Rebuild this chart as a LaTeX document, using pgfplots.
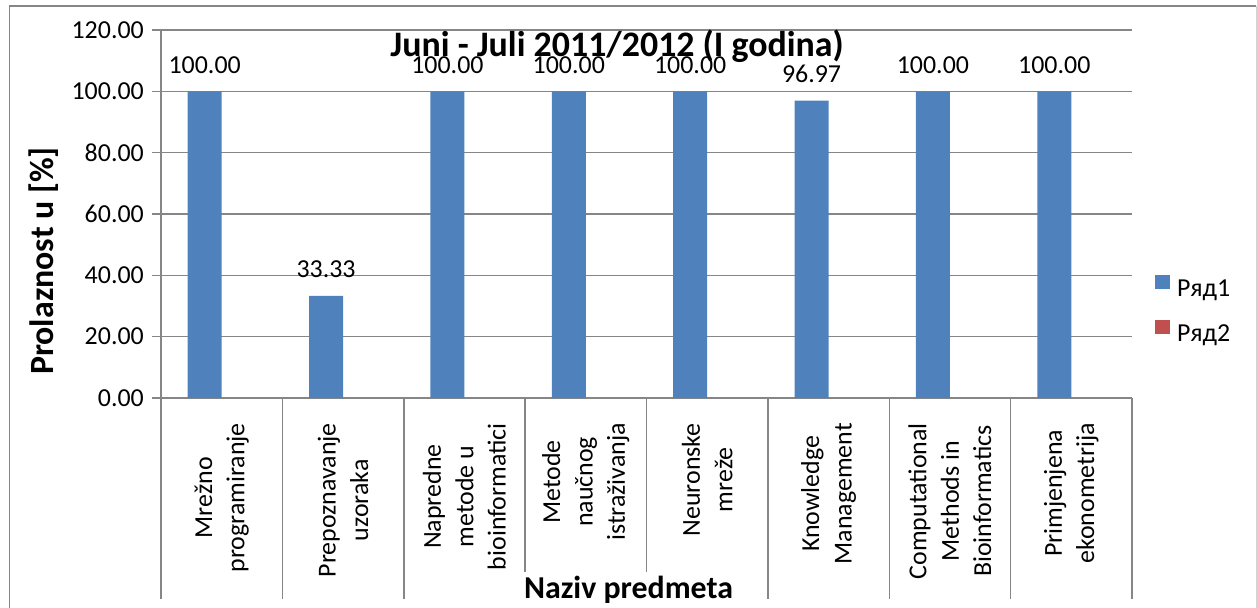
\documentclass[border=0pt]{standalone}
\usepackage{fontspec}
\setmainfont{Carlito}
\usepackage{pgfplots}
\pgfplotsset{compat=1.18}
\definecolor{s1}{RGB}{79,129,189}
\definecolor{s2}{RGB}{192,80,77}
\definecolor{gridc}{RGB}{134,134,134}
\begin{document}
\begin{tikzpicture}
\useasboundingbox (0,0) rectangle (1257bp,608bp);
\draw[gridc, line width=1.2bp] (9.5bp,-5bp) -- (9.5bp,602bp) -- (1256bp,602bp);
\draw[gray!35, line width=1bp] (1256bp,602bp) -- (1256bp,-5bp);
\begin{axis}[
  at={(161bp,210bp)}, anchor=south west,
  scale only axis, width=971bp, height=368bp,
  ybar=0pt, bar width=34bp,
  xmin=-0.5, xmax=7.5, ymin=0, ymax=120,
  ytick={0,20,...,120},
  xtick={0,...,7},
  xticklabels={Mrežno\\programiranje, Prepoznavanje\\uzoraka, Napredne\\metode u\\bioinformatici, Metode\\naučnog\\istraživanja, Neuronske\\mreže, Knowledge\\Management, Computational\\Methods in\\Bioinformatics, Primjenjena\\ekonometrija},
  axis x line*=bottom, axis y line*=left,
  axis line style={gridc, line width=1.5bp, -},
  ymajorgrids, major grid style={gridc, line width=1.5bp},
  tick style={gridc, line width=1.5bp},
  major tick length=9bp, tick align=outside,
  xtick style={draw=none},
  ticklabel style={font=\fontsize{26}{32.5}\selectfont, text=black},
  yticklabel style={inner sep=0pt, anchor=east, xshift=-8bp},
  xticklabel style={inner sep=0pt, anchor=east, align=center, yshift=-16bp, rotate=90},
  /pgf/number format/.cd, fixed, fixed zerofill, precision=2, assume math mode=true,
  /pgfplots/.cd,
  clip=false,
  nodes near coords style={font=\fontsize{26}{31}\selectfont, anchor=south, inner sep=0pt, yshift=17.5bp},
  legend style={at={(1.0237,0.242)}, anchor=west, draw=none, fill=none, inner sep=0pt,
    font=\fontsize{26}{31}\selectfont, row sep=22bp, legend cell align=left,
    nodes={inner sep=0pt}},
]
\addplot[fill=s1, draw=none, nodes near coords,
  /pgf/number format/.cd, fixed, fixed zerofill, precision=2, /pgfplots/.cd,
  legend image code/.code={\fill[s1] (0bp,0bp) rectangle (15bp,14bp);}]
  coordinates {(0,100) (1,33.33) (2,100) (3,100) (4,100) (5,96.97) (6,100) (7,100)};
\addplot[fill=none, draw=none,
  legend image code/.code={\fill[s2] (0bp,0bp) rectangle (15bp,14bp);}]
  coordinates {(0,0) (1,0) (2,0) (3,0) (4,0) (5,0) (6,0) (7,0)};
\legend{\hspace{7bp}Ряд1, \hspace{7bp}Ряд2}
\pgfplotsinvokeforeach{-0.5,0.5,...,7.5}{\draw[gridc, line width=1.5bp] (axis cs:#1,0) -- ([yshift=-201bp]axis cs:#1,0);}
\end{axis}
\node[anchor=base, font=\bfseries\fontsize{36}{40}\selectfont] at (617bp,551bp) {Juni - Juli 2011/2012 (I godina)};
\node[anchor=base, fill=white, inner sep=4bp, font=\bfseries\fontsize{32}{38}\selectfont] at (628.5bp,10bp) {Naziv predmeta};
\node[anchor=base, rotate=90, font=\bfseries\fontsize{34}{40}\selectfont] at (53bp,347bp) {Prolaznost u [\%]};
\end{tikzpicture}
\end{document}
